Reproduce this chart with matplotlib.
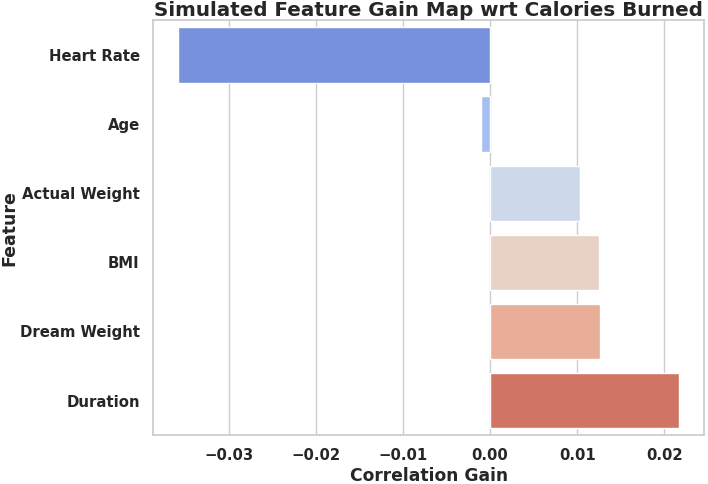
import matplotlib
matplotlib.use('Agg')
import matplotlib.pyplot as plt
import seaborn as sns
import pandas as pd

#-----------------------------------------------------------------------------#
# data

features = ['Heart Rate', 'Age', 'Actual Weight', 'BMI', 'Dream Weight', 'Duration']
gains = [-0.0358, -0.00104, 0.01032, 0.01248, 0.01264, 0.02173]

#-----------------------------------------------------------------------------#
# plot

sns.set_theme(style='whitegrid')

df = pd.DataFrame({'Feature': features, 'Correlation Gain': gains})

fig, ax = plt.subplots(figsize=(7.08, 4.84), dpi=100)
sns.barplot(data=df, x='Correlation Gain', y='Feature', hue='Feature',
            palette='coolwarm', legend=False, ax=ax)

ax.set_title('Simulated Feature Gain Map wrt Calories Burned',
             fontsize=14.3, fontweight='bold', pad=3)
ax.set_xlabel('Correlation Gain', fontsize=12.3, fontweight='bold', labelpad=3)
ax.set_ylabel('Feature', fontsize=12.5, fontweight='bold', labelpad=1)
ax.tick_params(axis='x', pad=3.5)
for lbl in ax.get_xticklabels() + ax.get_yticklabels():
    lbl.set_fontweight('bold')
    lbl.set_fontsize(10.7)

fig.subplots_adjust(left=0.216, right=0.995, top=0.958, bottom=0.101)
fig.savefig('out.png')
